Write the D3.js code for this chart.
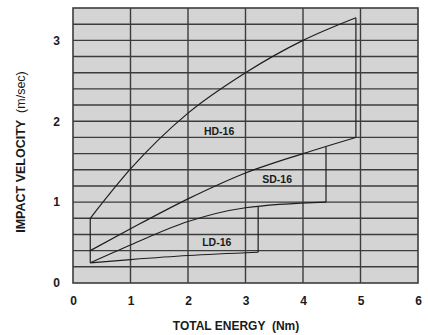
<!DOCTYPE html>
<html>
<head>
<meta charset="utf-8">
<script src="https://cdn.jsdelivr.net/npm/d3@7"></script>
<style>
  body { margin: 0; background: #fff; }
  text { font-family: "Liberation Sans", Arial, sans-serif; white-space: pre; }
</style>
</head>
<body>
<svg id="plot" width="428" height="335"></svg>
<script>
const svg = d3.select("#plot");
const margin = {top: 8, right: 10, bottom: 52, left: 73};
const width = 428 - margin.left - margin.right;
const height = 335 - margin.top - margin.bottom;

// data (energy Nm, velocity m/s)
const xTicks = [0, 1, 2, 3, 4, 5, 6];
const yTicks = [0, 1, 2, 3];
const hdUpper = [[0.3, 0.8], [1, 1.41], [2, 2.1], [3, 2.6], [4, 3.0], [4.92, 3.28]];
const hdLower = [[0.3, 0.4], [1, 0.67], [2, 1.04], [3, 1.36], [4, 1.6], [4.92, 1.8]];
const sdLower = [[0.3, 0.25], [1, 0.47], [2, 0.76], [3, 0.93], [4.4, 1.0]];
const ldLower = [[0.3, 0.25], [1, 0.29], [2, 0.34], [3.22, 0.38]];
// closing verticals [x, y0, y1]
const closers = [[0.3, 0.25, 0.8], [4.92, 1.8, 3.28], [4.4, 1.0, 1.68], [3.22, 0.38, 0.94]];
const labels = [["HD-16", 2.54, 1.88], ["SD-16", 3.55, 1.28], ["LD-16", 2.5, 0.5]];

const x = d3.scaleLinear().domain([0, 6]).range([0, width]);
const y = d3.scaleLinear().domain([0, 3.4]).range([height, 0]);

const g = svg.append("g").attr("transform", `translate(${margin.left},${margin.top})`);

g.append("rect").attr("width", width).attr("height", height).style("fill", "#d4d4d4");

// grid
g.append("g").selectAll("line").data(d3.range(0.2, 3.3, 0.2)).join("line")
  .attr("x1", 0).attr("x2", width)
  .attr("y1", d => y(d)).attr("y2", d => y(d))
  .style("stroke", "#3c3c3c").style("stroke-width", 1.4);
g.append("g").selectAll("line").data([1, 2, 3, 4, 5]).join("line")
  .attr("y1", 0).attr("y2", height)
  .attr("x1", d => x(d)).attr("x2", d => x(d))
  .style("stroke", "#3c3c3c").style("stroke-width", 1.4);
g.append("rect").attr("width", width).attr("height", height)
  .style("fill", "none").style("stroke", "#3c3c3c").style("stroke-width", 1.6);

// curves
const line = d3.line().x(d => x(d[0])).y(d => y(d[1])).curve(d3.curveMonotoneX);
[hdUpper, hdLower, sdLower, ldLower].forEach(c => {
  g.append("path").attr("d", line(c))
    .style("fill", "none").style("stroke", "#1e1e1e").style("stroke-width", 1.2);
});
g.append("g").selectAll("line").data(closers).join("line")
  .attr("x1", d => x(d[0])).attr("x2", d => x(d[0]))
  .attr("y1", d => y(d[1])).attr("y2", d => y(d[2]))
  .style("stroke", "#1e1e1e").style("stroke-width", 1.2);

g.append("g").selectAll("text").data(labels).join("text")
  .attr("x", d => x(d[1])).attr("y", d => y(d[2]))
  .attr("dy", "0.35em")
  .style("text-anchor", "middle").style("font-size", "10.5px").style("font-weight", "700")
  .style("fill", "#1a1a1a")
  .text(d => d[0]);

// axes
const xAxis = g.append("g").attr("transform", `translate(0,${height})`)
  .call(d3.axisBottom(x).tickValues(xTicks).tickSize(0).tickPadding(13).tickFormat(d3.format("d")));
const yAxis = g.append("g")
  .call(d3.axisLeft(y).tickValues(yTicks).tickSize(0).tickPadding(13).tickFormat(d3.format("d")));
[xAxis, yAxis].forEach(a => {
  a.select(".domain").remove();
  a.selectAll("text").style("font-size", "12px").style("font-weight", "700")
    .style("fill", "#1a1a1a").style("font-family", "'Liberation Sans', Arial, sans-serif");
});

svg.append("text")
  .attr("x", 236).attr("y", 330)
  .style("text-anchor", "middle").style("font-size", "12px").style("font-weight", "700")
  .style("fill", "#1a1a1a")
  .text("TOTAL ENERGY  (Nm)");

const yl = svg.append("text")
  .attr("transform", "translate(25,152) rotate(-90)")
  .style("text-anchor", "middle").style("font-size", "12.5px").style("fill", "#1a1a1a");
yl.append("tspan").style("font-weight", "700").text("IMPACT VELOCITY");
yl.append("tspan").style("font-weight", "400").text("  (m/sec)");
</script>
</body>
</html>
